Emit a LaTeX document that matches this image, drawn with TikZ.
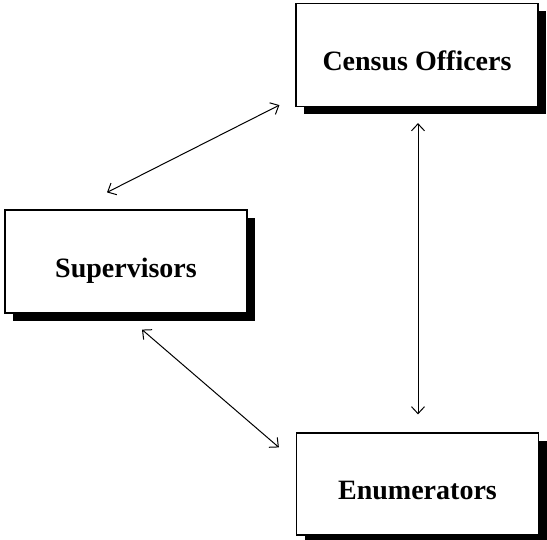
\documentclass[tikz,border=0pt]{standalone}
\usepackage{fontspec}
\setmainfont{Liberation Serif}
\usepackage{tikz}
\usetikzlibrary{shadows,arrows.meta}

\begin{document}
\begin{tikzpicture}[x=1pt,y=-1pt,
  box/.style={draw,line width=1.2pt,fill=white,minimum width=242pt,minimum height=103pt,
    font=\fontsize{28}{32}\selectfont\bfseries,text height=32pt,text depth=0pt,
    drop shadow={shadow xshift=8pt,shadow yshift=-8pt,opacity=1,fill=black}},
  link/.style={line width=1pt,{Straight Barb[length=7pt,width=13pt]}-{Straight Barb[length=7pt,width=13pt]}}]
\useasboundingbox (0,0) rectangle (547,540);
\node[box] (cen) at (417,55) {Census Officers};
\node[box] (sup) at (126,261.5) {Supervisors};
\node[box,minimum height=102pt] (enu) at (417.5,484) {Enumerators};
\coordinate (s1) at ([shift={(-19,-17)}]sup.north);
\coordinate (c1) at ([shift={(-16,-2)}]cen.south west);
\coordinate (s2) at ([shift={(16,16)}]sup.south);
\coordinate (e2) at ([shift={(-17,15)}]enu.north west);
\coordinate (c3) at ([shift={(1,16)}]cen.south);
\coordinate (e3) at ([shift={(0.5,-18)}]enu.north);
\foreach \from/\to in {s1/c1,s2/e2,c3/e3}
\draw[link] (\from) -- (\to);
\end{tikzpicture}
\end{document}
